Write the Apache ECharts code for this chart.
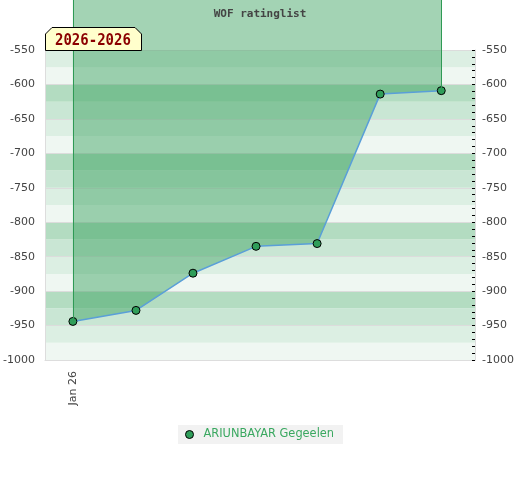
<!DOCTYPE html>
<html><head><meta charset="utf-8">
<script src="https://cdn.jsdelivr.net/npm/echarts@6/dist/echarts.min.js"></script>
<style>html,body{margin:0;padding:0;background:#fff}#c{width:520px;height:480px}</style>
</head><body><div id="c"></div>
<script>
// ---- data ----
const TITLE = 'WOF ratinglist';
const PLAYER = 'ARIUNBAYAR Gegeelen';
const DATES = ['2026-01-01','2026-02-01','2026-03-01','2026-04-01','2026-05-01','2026-06-01','2026-07-01'];
const RATINGS = [-944, -928, -874, -835, -831, -614, -609];
const X_LABEL_DATES = ['2026-01-01'];
const X_MIN = '2025-12-18 07:00:00';
const X_MAX = '2026-07-17 14:00:00';
const Y_MIN = -1000, Y_MAX = -550, Y_STEP = 50, BAND_STEP = 25, MINOR_SPLIT = 5;
const MONTHS = ['Jan','Feb','Mar','Apr','May','Jun','Jul','Aug','Sep','Oct','Nov','Dec'];
const BAND_COLORS = ['#eff7f2', '#dcefe3', '#c9e6d4', '#b3dcc1'];

// ---- layout ----
const GRID_LEFT = 45, GRID_RIGHT = 45, PLOT_TOP = 50, PLOT_BOTTOM = 360, H = 480;
const TOP_MAX = Y_MAX + (Y_MAX - Y_MIN) * PLOT_TOP / (PLOT_BOTTOM - PLOT_TOP);

const parse = d => +echarts.time.parse(d);
const T = DATES.map(parse);
const points = T.map((t, i) => [t, RATINGS[i]]);
const t0 = T[0], tN = T[T.length - 1], v0 = RATINGS[0], vN = RATINGS[RATINGS.length - 1];
const yearSpan = new Date(t0).getFullYear() + '-' + new Date(tN).getFullYear();

const FILL = 'rgba(50,158,88,0.45)';
const EDGE = '#2f9a55';
const LABEL_FONT = { color: '#444', fontSize: 11, fontFamily: 'DejaVu Sans' };

const chart = echarts.init(document.getElementById('c'), null, { renderer: 'canvas' });
chart.setOption({
  animation: false,
  backgroundColor: '#fff',
  title: {
    text: TITLE, left: 'center', top: 4,
    textStyle: { fontFamily: 'DejaVu Sans Mono', fontWeight: 'bold', fontSize: 11, color: '#444' }
  },
  legend: {
    data: [PLAYER], left: 178, top: 425,
    backgroundColor: '#f2f2f2', padding: [4, 9, 4, 7],
    icon: 'circle', itemWidth: 8, itemHeight: 8,
    itemStyle: { color: '#2f9e5a', borderColor: '#000', borderWidth: 1 },
    textStyle: { color: '#3aa860', fontSize: 11.4, fontFamily: 'DejaVu Sans', padding: [0, 0, 0, 5] }
  },
  grid: [
    { left: GRID_LEFT, right: GRID_RIGHT, top: PLOT_TOP, bottom: H - PLOT_BOTTOM, outerBoundsMode: 'none', containLabel: false },
    { left: GRID_LEFT, right: GRID_RIGHT, top: 0, height: PLOT_TOP, outerBoundsMode: 'none', containLabel: false }
  ],
  xAxis: [
    {
      type: 'value', gridIndex: 0, min: parse(X_MIN), max: parse(X_MAX),
      axisLine: { show: true, onZero: false, lineStyle: { color: '#ddd' } },
      axisTick: { show: false },
      splitLine: { show: false },
      axisLabel: {
        customValues: X_LABEL_DATES.map(parse), rotate: 90, margin: 11,
        ...LABEL_FONT,
        formatter: v => { const d = new Date(v); return MONTHS[d.getMonth()] + ' ' + String(d.getFullYear()).slice(2); }
      }
    },
    {
      type: 'value', gridIndex: 1, min: parse(X_MIN), max: parse(X_MAX), show: false
    }
  ],
  yAxis: [
    { // background bands
      type: 'value', gridIndex: 0, min: Y_MIN, max: Y_MAX, interval: BAND_STEP,
      axisLine: { show: false }, axisTick: { show: false }, axisLabel: { show: false },
      splitLine: { show: false },
      splitArea: { show: true, areaStyle: { color: BAND_COLORS } }
    },
    { // left labelled axis
      type: 'value', gridIndex: 0, position: 'left', min: Y_MIN, max: Y_MAX, interval: Y_STEP,
      axisLine: { show: true, lineStyle: { color: '#ddd' } },
      axisTick: { show: false },
      axisLabel: { margin: 10, ...LABEL_FONT, formatter: v => String(v) },
      splitLine: { show: true, lineStyle: { color: '#dcdcdc', width: 1 } },
      splitArea: { show: false }
    },
    { // right labelled axis
      type: 'value', gridIndex: 0, position: 'right', min: Y_MIN, max: Y_MAX, interval: Y_STEP,
      axisLine: { show: true, lineStyle: { color: '#ddd' } },
      axisTick: { show: true, inside: true, length: 3, lineStyle: { color: '#000' } },
      minorTick: { show: true, splitNumber: MINOR_SPLIT, length: 3, lineStyle: { color: '#000' } },
      axisLabel: { margin: 7, ...LABEL_FONT, formatter: v => String(v) },
      splitLine: { show: false }
    },
    { // continuation of the scale above the plot
      type: 'value', gridIndex: 1, min: Y_MAX, max: TOP_MAX, show: false
    }
  ],
  series: [
    {
      name: PLAYER, type: 'line', xAxisIndex: 0, yAxisIndex: 1, z: 3,
      data: points,
      symbol: 'circle', symbolSize: 8,
      itemStyle: { color: '#2f9e5a', borderColor: '#000', borderWidth: 1 },
      lineStyle: { color: '#5a9fd8', width: 1.5 },
      areaStyle: { origin: 'end', color: FILL, opacity: 1 },
      markLine: {
        silent: true, symbol: 'none', label: { show: false },
        lineStyle: { color: EDGE, width: 1, type: 'solid', opacity: 1 },
        data: [
          [{ coord: [t0, v0] }, { coord: [t0, Y_MAX] }],
          [{ coord: [tN, vN] }, { coord: [tN, Y_MAX] }]
        ]
      }
    },
    {
      name: 'top', type: 'line', xAxisIndex: 1, yAxisIndex: 3, z: 3, silent: true,
      data: points, showSymbol: false,
      lineStyle: { width: 0, opacity: 0 },
      areaStyle: { origin: 'end', color: FILL, opacity: 1 },
      markLine: {
        silent: true, symbol: 'none', label: { show: false },
        lineStyle: { color: EDGE, width: 1, type: 'solid', opacity: 1 },
        data: [
          [{ coord: [t0, Y_MAX] }, { coord: [t0, TOP_MAX] }],
          [{ coord: [tN, Y_MAX] }, { coord: [tN, TOP_MAX] }]
        ]
      }
    }
  ],
  graphic: [
    { type: 'polygon', z: 100, zlevel: 0,
      shape: { points: [[45.5, 34], [52, 27.5], [135, 27.5], [141.5, 34], [141.5, 50.5], [45.5, 50.5]] },
      style: { fill: '#ffffcc', stroke: '#000', lineWidth: 1 } },
    { type: 'text', z: 101, x: 55, y: 40.5, scaleY: 1.15,
      style: { text: yearSpan, font: 'bold 14px "DejaVu Sans Mono"', fill: '#8b0000', verticalAlign: 'middle', align: 'left' } }
  ]
});
</script>
</body></html>
